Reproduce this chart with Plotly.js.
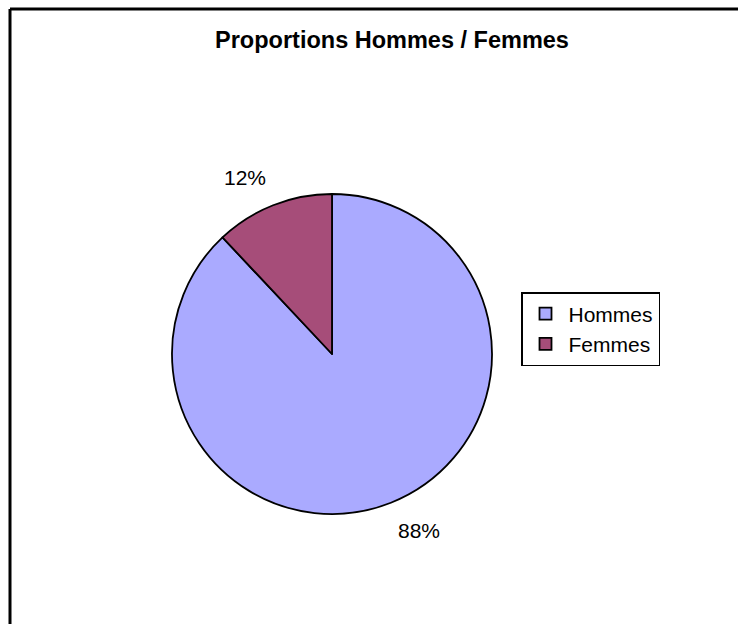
<!DOCTYPE html>
<html>
<head>
<meta charset="utf-8">
<script src="https://cdn.plot.ly/plotly-3.0.1.min.js"></script>
<style>html,body{margin:0;padding:0;background:#fff;}#chart{width:738px;height:624px;}</style>
</head>
<body>
<div id="chart"></div>
<script>
const categories = ["Hommes", "Femmes"];
const values = [88, 12];
const colors = ["#AAAAFF", "#A64D79"];

// pie geometry (pixels in the 738x624 page)
const W = 738, H = 624;
const cx = 332, cy = 354, R = 160;

const trace = {
  type: "pie",
  labels: categories,
  values: values,
  sort: false,
  direction: "clockwise",
  rotation: 0,
  marker: {colors: colors, line: {color: "#000000", width: 1.8}},
  textinfo: "none",
  hoverinfo: "skip",
  domain: {x: [(cx - R)/W, (cx + R)/W], y: [(H - cy - R)/H, (H - cy + R)/H]}
};

// percentage labels placed at each slice's mid-angle, derived from the data
const total = values.reduce((a, b) => a + b, 0);
let cum = 0;
const labelR = 176;
const annotations = values.map((v) => {
  const mid = (cum + v / 2) / total * 2 * Math.PI;
  cum += v;
  const s = Math.sin(mid), c = Math.cos(mid);
  const px = cx + labelR * s;
  const py = cy - labelR * c;
  return {
    xref: "paper", yref: "paper",
    x: px / W, y: 1 - py / H,
    xanchor: s >= 0 ? "left" : "right",
    yanchor: c >= 0 ? "bottom" : "top",
    text: Math.round(v / total * 100) + "%",
    showarrow: false,
    borderpad: 0,
    font: {family: "Liberation Sans, Arial, sans-serif", size: 21, color: "#000"}
  };
});

const layout = {
  width: W, height: H,
  margin: {l: 0, r: 0, t: 0, b: 0},
  paper_bgcolor: "#fff",
  title: {
    text: "<b>Proportions Hommes / Femmes</b>",
    font: {family: "Liberation Sans, Arial, sans-serif", size: 23.5, color: "#000"},
    x: 392 / W, xanchor: "center", y: 1 - 40 / H, yanchor: "middle"
  },
  showlegend: true,
  legend: {
    x: 521 / W, xanchor: "left", y: 1 - 292 / H, yanchor: "top",
    bordercolor: "#000", borderwidth: 1.5, bgcolor: "#fff",
    font: {family: "Liberation Sans, Arial, sans-serif", size: 21, color: "#000"},
    traceorder: "normal",
    itemwidth: 36
  },
  annotations: annotations,
  shapes: [
    {type: "line", xref: "paper", yref: "paper", x0: 10 / W, x1: 1.01, y0: 1 - 9 / H, y1: 1 - 9 / H, line: {color: "#000", width: 3}},
    {type: "line", xref: "paper", yref: "paper", x0: 10 / W, x1: 10 / W, y0: 1 - 9 / H, y1: -0.01, line: {color: "#000", width: 3}}
  ]
};

Plotly.newPlot("chart", [trace], layout, {displayModeBar: false, staticPlot: true});
</script>
</body>
</html>
